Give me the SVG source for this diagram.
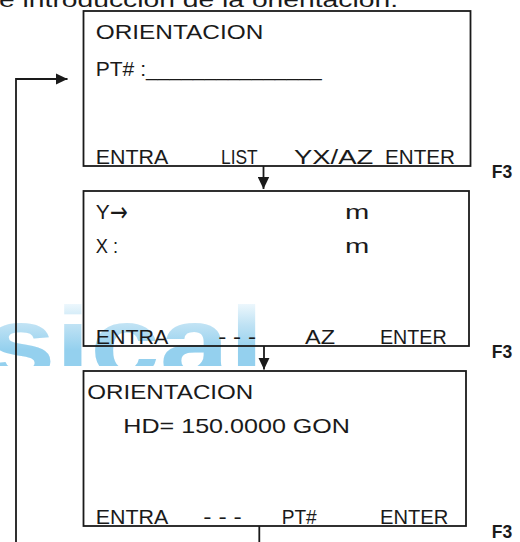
<svg xmlns="http://www.w3.org/2000/svg" width="520" height="542" viewBox="0 0 520 542">
<style>
.t{font-family:"Liberation Sans",Arial,sans-serif;font-size:21px;fill:#1a1a1a}
.f{font-family:"Liberation Sans",Arial,sans-serif;font-size:17.5px;font-weight:bold;fill:#1a1a1a}
.box{fill:none;stroke:#1a1a1a;stroke-width:1.8}
.c{fill:none;stroke:#1a1a1a;stroke-width:1.8}
</style>
<defs>
<marker id="ah" markerUnits="userSpaceOnUse" markerWidth="13" markerHeight="12" refX="12" refY="6" orient="auto">
<path d="M0 0.3 L12 6 L0 11.7 Z" fill="#1a1a1a"/>
</marker>
<linearGradient id="wg" gradientUnits="userSpaceOnUse" x1="0" y1="300" x2="0" y2="350">
<stop offset="0" stop-color="#f5fbfe"/>
<stop offset="0.5" stop-color="#bfe2f4"/>
<stop offset="1" stop-color="#94d0ee"/>
</linearGradient>
<clipPath id="wc"><rect x="0" y="290" width="320" height="76"/></clipPath>
</defs>
<g id="watermark" clip-path="url(#wc)">
<text x="-14" y="377" font-family="Liberation Sans, Arial, sans-serif" font-size="100" font-weight="bold" fill="url(#wg)" textLength="278" lengthAdjust="spacingAndGlyphs">sical</text>
</g>
<text class="t" x="-1" y="6.5" textLength="399" lengthAdjust="spacingAndGlyphs">e introducción de la orientación.</text>
<g id="connectors">
<path class="c" d="M263.5 166 V189" marker-end="url(#ah)"/>
<path class="c" d="M264 346 V369.5" marker-end="url(#ah)"/>
<path class="c" d="M259.3 526 V560 H16 V79 H67.5" marker-end="url(#ah)"/>
</g>
<g id="node1">
<rect class="box" x="83.5" y="11" width="387" height="155"/>
<text class="t" x="95.7" y="39.3" textLength="167.6" lengthAdjust="spacingAndGlyphs">ORIENTACION</text>
<text class="t" x="95.7" y="76" textLength="226" lengthAdjust="spacingAndGlyphs">PT# :_______________</text>
<text class="t" x="95.7" y="163.5" textLength="72.6" lengthAdjust="spacingAndGlyphs">ENTRA</text>
<text class="t" x="221" y="163.5" textLength="36.7" lengthAdjust="spacingAndGlyphs">LIST</text>
<text class="t" x="294" y="163.5" textLength="79.3" lengthAdjust="spacingAndGlyphs">YX/AZ</text>
<text class="t" x="385" y="163.5" textLength="70" lengthAdjust="spacingAndGlyphs">ENTER</text>
<text class="f" x="491.7" y="178.3">F3</text>
</g>
<g id="node2">
<rect class="box" x="83.5" y="191" width="385.5" height="155"/>
<text class="t" x="95.7" y="219.3">Y<tspan x="110" y="220.5" font-family="DejaVu Sans, sans-serif" font-size="27" textLength="18" lengthAdjust="spacingAndGlyphs">→</tspan></text>
<text class="t" x="345" y="219.3" textLength="24.3" lengthAdjust="spacingAndGlyphs">m</text>
<text class="t" x="95.7" y="252.7" textLength="22.3" lengthAdjust="spacingAndGlyphs">X :</text>
<text class="t" x="345" y="252.7" textLength="24.3" lengthAdjust="spacingAndGlyphs">m</text>
<text class="t" x="95.7" y="343.5" textLength="72.6" lengthAdjust="spacingAndGlyphs">ENTRA</text>
<text class="t" x="218.3" y="343.5" textLength="37.7" lengthAdjust="spacingAndGlyphs">- - -</text>
<text class="t" x="305" y="343.5" textLength="30" lengthAdjust="spacingAndGlyphs">AZ</text>
<text class="t" x="380" y="343.5" textLength="66.7" lengthAdjust="spacingAndGlyphs">ENTER</text>
<text class="f" x="491.7" y="358.3">F3</text>
</g>
<g id="node3">
<rect class="box" x="83.5" y="371" width="382.5" height="155"/>
<text class="t" x="87.3" y="399.3" textLength="166" lengthAdjust="spacingAndGlyphs">ORIENTACION</text>
<text class="t" x="123.3" y="432.7" textLength="226.7" lengthAdjust="spacingAndGlyphs">HD= 150.0000 GON</text>
<text class="t" x="95.7" y="523.5" textLength="72.6" lengthAdjust="spacingAndGlyphs">ENTRA</text>
<text class="t" x="203.3" y="523.5" textLength="38.4" lengthAdjust="spacingAndGlyphs">- - -</text>
<text class="t" x="281.7" y="523.5" textLength="35" lengthAdjust="spacingAndGlyphs">PT#</text>
<text class="t" x="380" y="523.5" textLength="68.3" lengthAdjust="spacingAndGlyphs">ENTER</text>
<text class="f" x="491.7" y="538.3">F3</text>
</g>
</svg>
